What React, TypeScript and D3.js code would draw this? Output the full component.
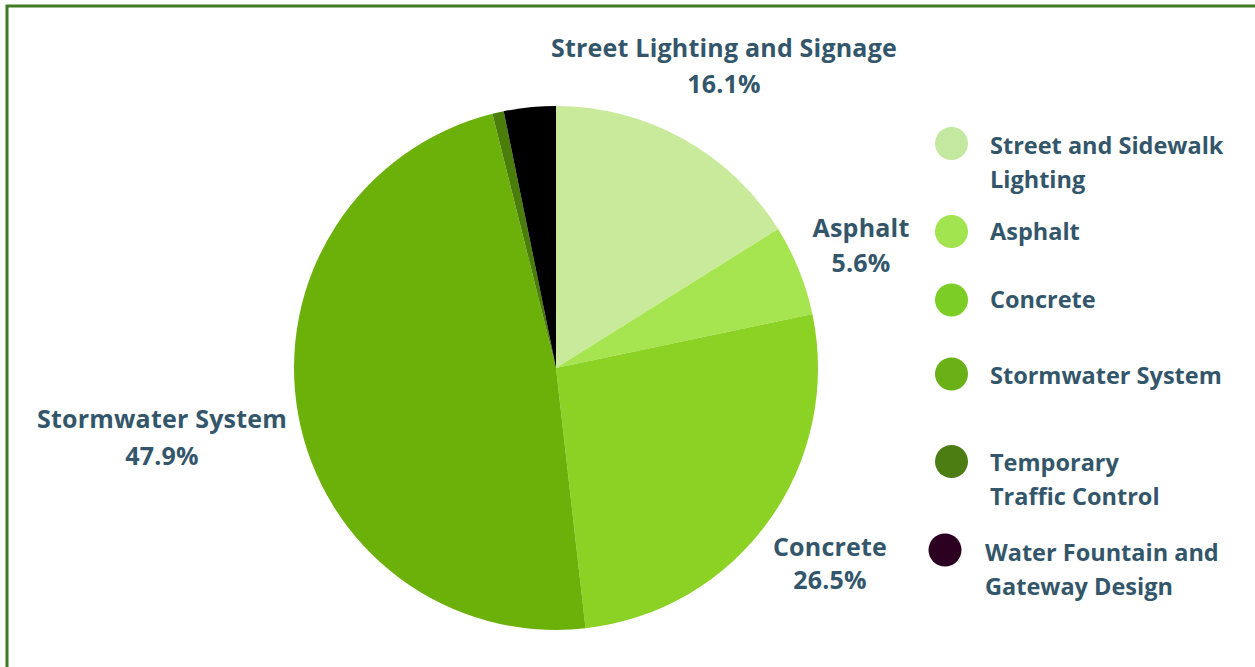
import React from "react";
import * as d3 from "d3";

const categories = [
  "Street Lighting and Signage",
  "Asphalt",
  "Concrete",
  "Stormwater System",
  "Temporary Traffic Control",
  "Water Fountain and Gateway Design",
];
const values = [16.1, 5.6, 26.5, 47.9, 0.7, 3.2];
const sliceColors = ["#c9ea9b", "#a6e54f", "#8bd225", "#6cb10a", "#4b7d0a", "#000000"];
const legendLabels = [
  ["Street and Sidewalk", "Lighting"],
  ["Asphalt"],
  ["Concrete"],
  ["Stormwater System"],
  ["Temporary", "Traffic Control"],
  ["Water Fountain and", "Gateway Design"],
];
const legendColors = ["#c5e8a0", "#a2e350", "#7ccd25", "#6ab017", "#4c7d12", "#2b0020"];
const pieLabels = ["Street Lighting and Signage", "Asphalt", "Concrete", "Stormwater System"];

const W = 1255;
const H = 667;
const textColor = "#33566a";
const font = "'Open Sans', sans-serif";

export default function App() {
  const cx = 556;
  const cy = 368;
  const r = 262;
  const pie = d3.pie<number>().sort(null).value((d) => d).startAngle(0).endAngle(2 * Math.PI);
  const arcs = pie(values);
  const arc = d3.arc<d3.PieArcDatum<number>>().innerRadius(0).outerRadius(r);

  const labelPos = [
    { x: 724, y: 57 },
    { x: 861, y: 237 },
    { x: 830, y: 556 },
    { x: 162, y: 428 },
  ];
  const labelGap = [36, 35, 33, 37];

  const legendY = [143.5, 231.5, 300, 374, 461.5, 550];
  const legendX = [951.5, 951.5, 951.5, 951.5, 951.5, 945];
  const legendTextX = [990, 990, 990, 990, 990, 985];
  const legendBase = [
    [154, 188],
    [240],
    [308],
    [384],
    [471, 505],
    [561, 595],
  ];

  const fmt = d3.format(".1f");

  return (
    <svg
      width={W}
      height={H}
      style={{ position: "absolute", left: 0, top: 0, background: "#fff" }}
    >
      <rect x={0} y={0} width={W} height={H} fill="#ffffff" />
      <rect x={7} y={6} width={W + 10} height={H + 10} fill="none" stroke="#3f7b22" strokeWidth={3} />
      <g transform={`translate(${cx},${cy})`}>
        {arcs.map((a, i) => (
          <path key={categories[i]} d={arc(a) || ""} fill={sliceColors[i]} />
        ))}
      </g>
      {pieLabels.map((lab, i) => (
        <text
          key={lab}
          x={labelPos[i].x}
          y={labelPos[i].y}
          textAnchor="middle"
          fontFamily={font}
          fontWeight={700}
          fontSize={25}
          letterSpacing={0.2}
          fill={textColor}
        >
          <tspan x={labelPos[i].x}>{lab}</tspan>
          <tspan x={labelPos[i].x} dy={labelGap[i]}>
            {fmt(values[i])}%
          </tspan>
        </text>
      ))}
      {legendLabels.map((lines, i) => (
        <g key={categories[i]}>
          <circle cx={legendX[i]} cy={legendY[i]} r={16.5} fill={legendColors[i]} />
          {lines.map((ln, j) => (
            <text
              key={ln}
              x={legendTextX[i]}
              y={legendBase[i][j]}
              fontFamily={font}
              fontWeight={700}
              fontSize={23.5}
              fill={textColor}
            >
              {ln}
            </text>
          ))}
        </g>
      ))}
    </svg>
  );
}
